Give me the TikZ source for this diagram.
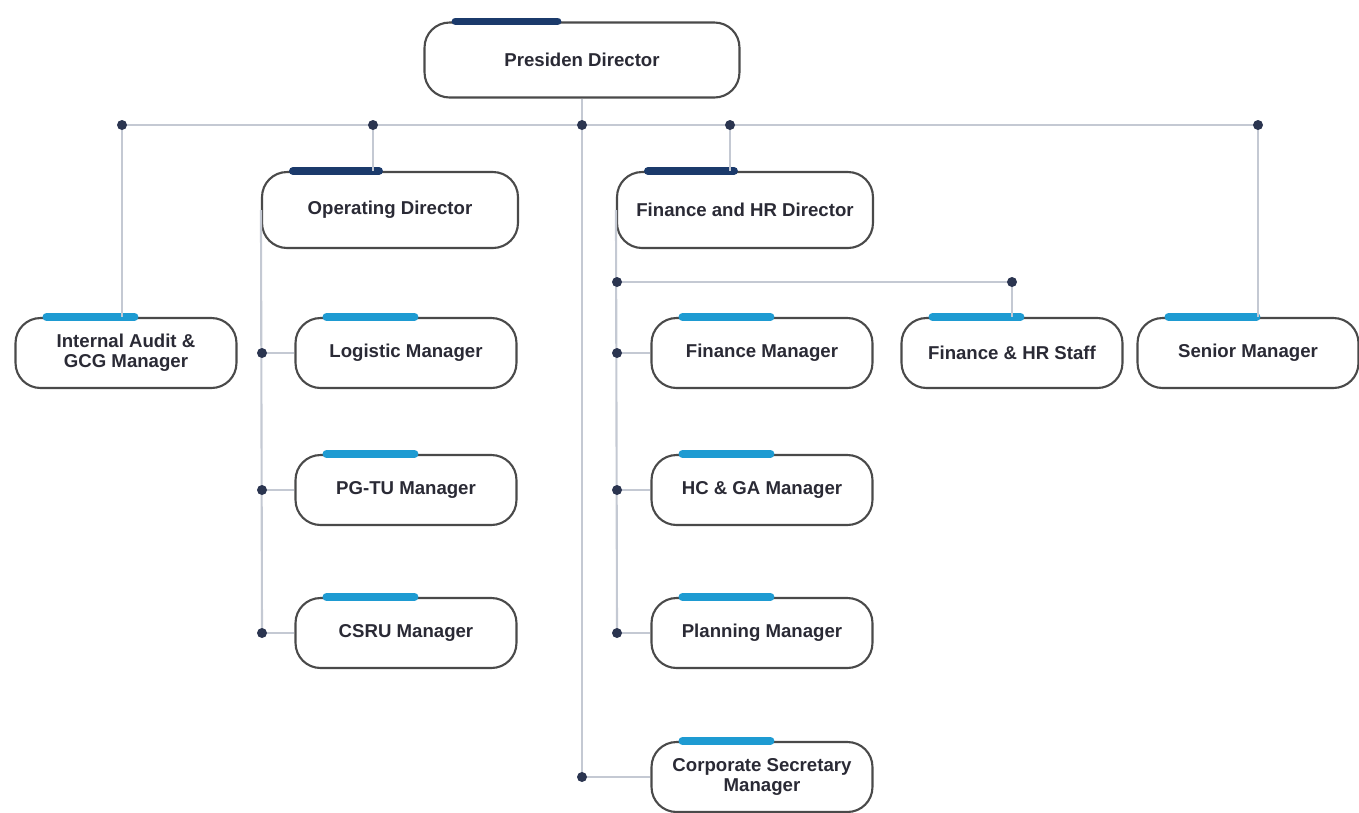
\documentclass[tikz,border=0pt]{standalone}
\usepackage{fontspec}
\setmainfont{Liberation Sans}
\usetikzlibrary{positioning}
\definecolor{navy}{HTML}{1B3A6B}
\definecolor{cyanbar}{HTML}{1E9BD2}
\definecolor{linkgray}{HTML}{C4C9D3}
\definecolor{edgegray}{HTML}{4A4A4A}
\definecolor{dotnavy}{HTML}{2B3550}
\definecolor{txt}{HTML}{2A2A35}
\tikzset{
  post/.style={draw=edgegray, line width=1.2pt, rounded corners=0.5cm, fill=white,
    text=txt, font=\fontsize{10.6}{11.5}\selectfont\bfseries, align=center, inner sep=2pt},
  boss/.style={post, minimum width=6.3cm, minimum height=1.5cm},
  head/.style={post, minimum width=5.12cm, minimum height=1.52cm},
  staff/.style={post, minimum width=4.42cm, minimum height=1.4cm},
  link/.style={draw=linkgray, line width=1.2pt},
  topbar/.style={line width=4.5pt, line cap=round},
}

\begin{document}
\begin{tikzpicture}[x=0.02cm, y=-0.02cm]
	  \useasboundingbox (0,0) rectangle (1359,812);
	  % boxes
	  \node[boss]  (pd) at (582,60)   {Presiden Director};
	  \node[head]  (od) at (390,210)  {Operating Director};
	  \node[head]  (fd) at (745,210)  {Finance and HR Director};
	  \node[staff] (ia) at (126,353)  {Internal Audit \&\\GCG Manager};
	  \node[staff] (sm) at (1248,353) {Senior Manager};
	  \node[staff] (hs) at (1012,353) {Finance \& HR Staff};
	  \node[staff] (cs) at (762,777)  {Corporate Secretary\\Manager};
	  \foreach \n/\y/\txt in {lm/353/Logistic Manager,pg/490/PG-TU Manager,cr/633/CSRU Manager}
		\node[staff] (\n) at (406,\y) {\txt};
	  \foreach \n/\y/\txt in {fm/353/Finance Manager,hc/490/HC \& GA Manager,pm/633/Planning Manager}
		\node[staff] (\n) at (762,\y) {\txt};
	  % bars on top
	  \draw[topbar, navy](pd.north west) ++(32,0) -- ++(102,0);
	  \foreach \n in {od,fd}
		\draw[topbar, navy](\n.north west) ++(32,0) -- ++(86,0);
	  \foreach \n in {ia,sm,hs,lm,pg,cr,fm,hc,pm,cs}
		\draw[topbar, cyanbar](\n.north west) ++(32,0) -- ++(88,0);
	  % junctions
	  \coordinate (t1) at (122,125);
	  \coordinate (t2) at (373,125);
	  \coordinate (t3) at (582,125);
	  \coordinate (t4) at (730,125);
	  \coordinate (t5) at (1258,125);
	  \coordinate (sec) at (582,777);
	  \coordinate (fh) at (617,282);
	  \coordinate (fs) at (1012,282);
	  \foreach \c/\y in {o1/353,o2/490,o3/633}
		\coordinate (\c) at (262,\y);
	  \foreach \c/\y in {f1/353,f2/490,f3/633}
		\coordinate (\c) at (617,\y);
	  % connectors
	  \draw[link](t1) -- (t5);
	  \draw[link](pd) -- (sec) -- (cs);
	  \draw[link](t1) -- (t1 |- ia.north);
	  \draw[link](t2) -- (t2 |- od.north);
	  \draw[link](t4) -- (t4 |- fd.north);
	  \draw[link](t5) -- (t5 |- sm.north);
	  \draw[link](od.west) -- (o3);
	  \draw[link](fd.west) -- (f3);
	  \draw[link](fh) -- (fs) -- (fs |- hs.north);
	  \foreach \c/\n in {o1/lm,o2/pg,o3/cr,f1/fm,f2/hc,f3/pm}
		\draw[link](\c) -- (\n);
	  \foreach \c in {t1,t2,t3,t4,t5,sec,fh,fs,o1,o2,o3,f1,f2,f3}
		\fill[dotnavy](\c) circle (5);
	\end{tikzpicture}
\end{document}
